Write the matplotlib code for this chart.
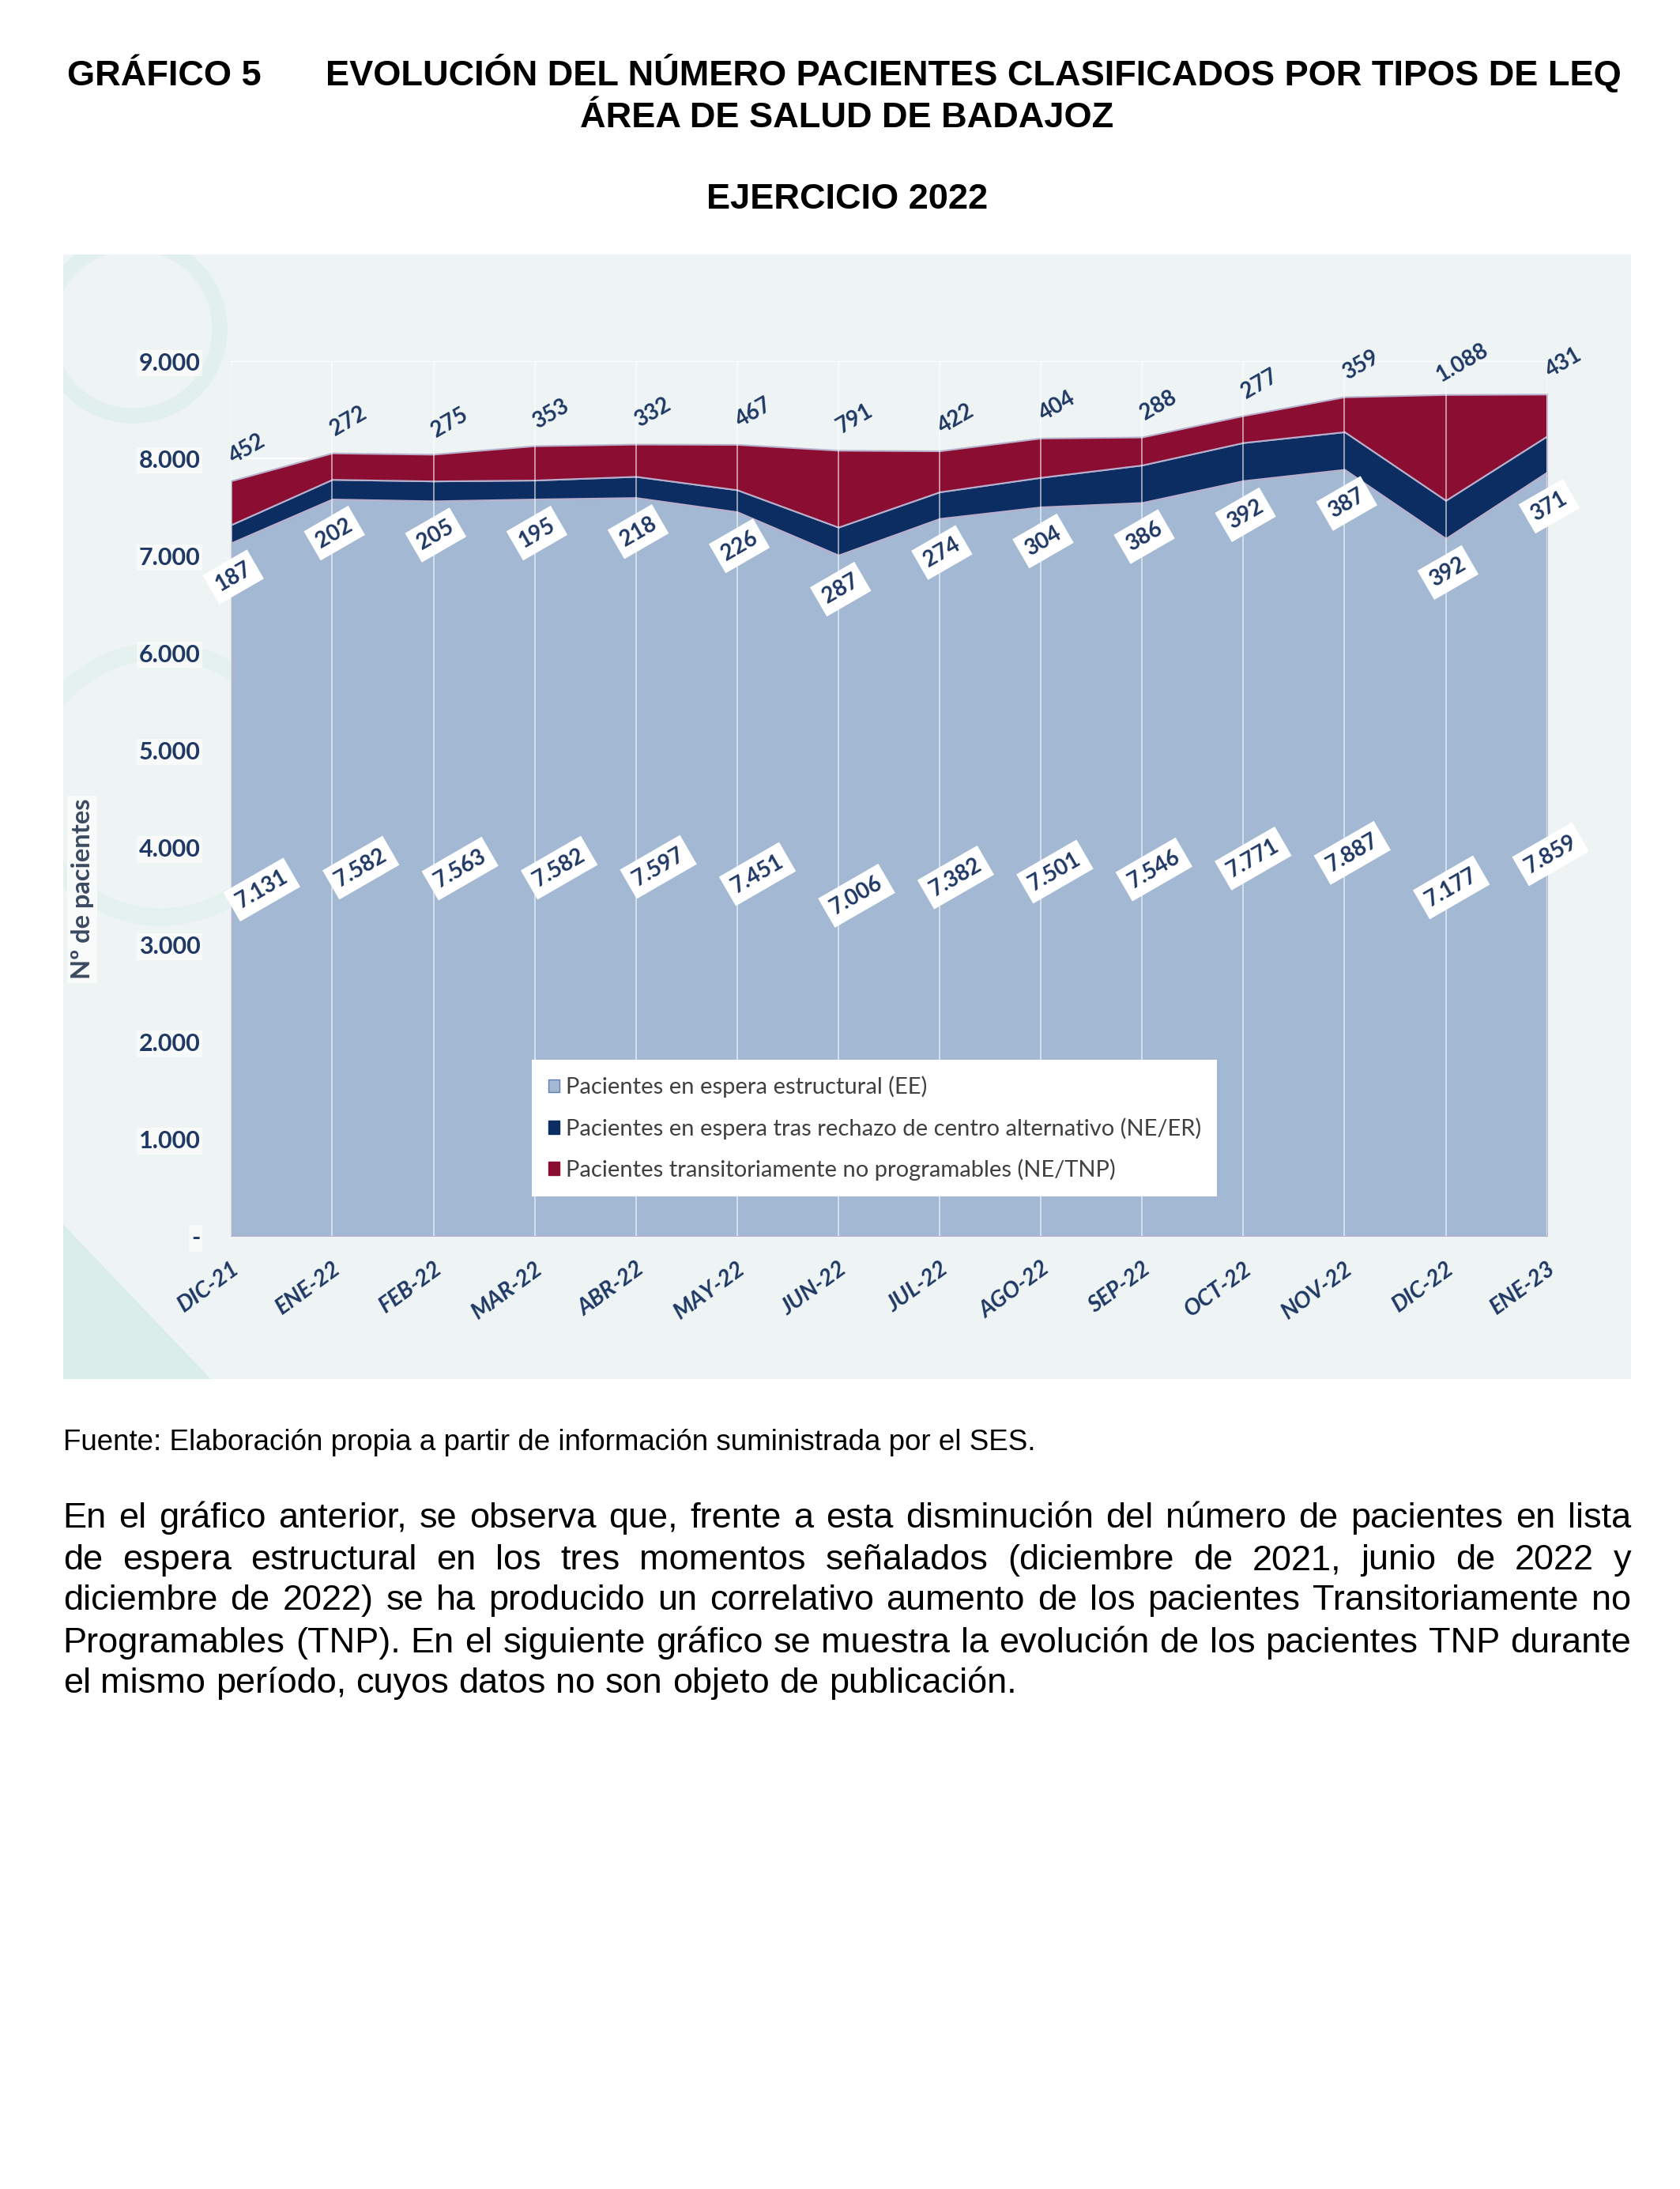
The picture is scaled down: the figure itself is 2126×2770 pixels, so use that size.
import numpy as np
import matplotlib.pyplot as plt
from matplotlib.patches import Patch, Circle, Polygon

# datos
meses = ['DIC-21', 'ENE-22', 'FEB-22', 'MAR-22', 'ABR-22', 'MAY-22', 'JUN-22',
         'JUL-22', 'AGO-22', 'SEP-22', 'OCT-22', 'NOV-22', 'DIC-22', 'ENE-23']
ee = [7131, 7582, 7563, 7582, 7597, 7451, 7006, 7382, 7501, 7546, 7771, 7887, 7177, 7859]
ne_er = [187, 202, 205, 195, 218, 226, 287, 274, 304, 386, 392, 387, 392, 371]
ne_tnp = [452, 272, 275, 353, 332, 467, 791, 422, 404, 288, 277, 359, 1088, 431]
yticks = [0, 1000, 2000, 3000, 4000, 5000, 6000, 7000, 8000, 9000]
series = ['Pacientes en espera estructural (EE)',
          'Pacientes en espera tras rechazo de centro alternativo (NE/ER)',
          'Pacientes transitoriamente no programables (NE/TNP)']

parrafo = [
    "En el gráfico anterior, se observa que, frente a esta disminución del número de pacientes en lista",
    "de espera estructural en los tres momentos señalados (diciembre de 2021, junio de 2022 y",
    "diciembre de 2022) se ha producido un correlativo aumento de los pacientes Transitoriamente no",
    "Programables (TNP). En el siguiente gráfico se muestra la evolución de los pacientes TNP durante",
    "el mismo período, cuyos datos no son objeto de publicación.",
]

c_ee, c_er, c_tnp = '#a3b8d3', '#0c2d61', '#8b0d32'
navy = '#1f3864'

W, H = 2126, 2770
S = W / 1200  # layout measured on a 1200 px wide view


def fx(x):
    return x / 1200


def fy(y):
    return 1 - y * S / H


def fmt(v):
    return f'{v:,}'.replace(',', '.')


fig = plt.figure(figsize=(W / 100, H / 100), dpi=100)
fig.patch.set_facecolor('white')

# titulos
tkw = dict(family='Liberation Sans', weight='bold', fontsize=32.5, color='black')
fig.text(fx(48), fy(61), 'GRÁFICO 5', ha='left', va='baseline', **tkw)
fig.text(fx(1158), fy(61), 'EVOLUCIÓN DEL NÚMERO PACIENTES CLASIFICADOS POR TIPOS DE LEQ',
         ha='right', va='baseline', **tkw)
fig.text(fx(605), fy(91), 'ÁREA DE SALUD DE BADAJOZ', ha='center', va='baseline', **tkw)
fig.text(fx(605), fy(149), 'EJERCICIO 2022', ha='center', va='baseline', **tkw)

# fondo de la imagen del grafico
bg = fig.add_axes([fx(45), fy(985), fx(1165) - fx(45), fy(182) - fy(985)])
bg.set_facecolor('#eef4f3')
bg.set_xlim(45, 1165)
bg.set_ylim(985, 182)
bg.set_xticks([])
bg.set_yticks([])
for s in bg.spines.values():
    s.set_visible(False)
bg.add_patch(Circle((95, 235), 62, fill=False, lw=14, ec='#e0efec', alpha=0.8))
bg.add_patch(Circle((115, 560), 95, fill=False, lw=16, ec='#e0f0ec', alpha=0.7))
bg.add_patch(Polygon([(45, 985), (45, 875), (150, 985)], color='#d3ebe6', alpha=0.7))

ax = fig.add_axes([fx(165), fy(883), fx(1105) - fx(165), fy(258) - fy(883)])
ax.patch.set_alpha(0)
x = np.arange(len(meses))
ax.stackplot(x, ee, ne_er, ne_tnp, colors=[c_ee, c_er, c_tnp],
             edgecolor='#b8b0cc', linewidth=1.5, zorder=2)
for i in x:
    ax.axvline(i, color='white', lw=1.3, alpha=0.6, zorder=3)
ax.set_xlim(0, 13)
ax.set_ylim(0, 9000)
ax.set_yticks(yticks)
ax.set_yticklabels(['-' if v == 0 else fmt(v) for v in yticks],
                   family='Lato', weight='bold', fontsize=22, color=navy)
ax.yaxis.grid(True, color='white', lw=1.5)
ax.set_axisbelow(True)
ax.tick_params(axis='y', length=0, pad=28)
ax.set_xticks(x)
ax.set_xticklabels(meses, rotation=36, ha='right', va='top', rotation_mode='anchor',
                   family='Lato', weight='bold', style='italic', fontsize=20.5, color=navy)
ax.tick_params(axis='x', length=0, pad=20)
for s in ax.spines.values():
    s.set_visible(False)
for lab in ax.get_yticklabels():
    lab.set_bbox(dict(fc='white', ec='none', alpha=0.6, pad=2))

ax.set_ylabel('Nº de pacientes', family='Lato', weight='bold', fontsize=23.5, color='#3b4a60',
              bbox=dict(fc='white', ec='none', alpha=0.7, pad=3))
ax.yaxis.set_label_coords((67 - 165) / 940, (883 - 635) / 625)

box = dict(boxstyle='square,pad=0.3', fc='white', ec='none')
lkw = dict(family='Lato', weight='bold', fontsize=20, color=navy, rotation=30,
           ha='center', va='center', zorder=5)
unit = 940 / 13
for i in x:
    ax.text(i + (22 - 1.5 * i) / unit, ee[i] / 2, fmt(ee[i]), bbox=box, **lkw)
    ax.annotate(fmt(ne_er[i]), (i, ee[i]), xytext=(2, -31), textcoords='offset points',
                bbox=box, annotation_clip=False, **lkw)
    ax.annotate(fmt(ne_tnp[i]), (i, ee[i] + ne_er[i] + ne_tnp[i]), xytext=(15, 29),
                textcoords='offset points', annotation_clip=False, **lkw)

handles = [Patch(fc=c_ee, ec='#5a7fb0', lw=1), Patch(fc=c_er, ec=c_er), Patch(fc=c_tnp, ec=c_tnp)]
leg = fig.legend(handles, series, loc='upper left', bbox_to_anchor=(fx(380), fy(757)),
                 frameon=True, fancybox=False, facecolor='white', edgecolor='none', framealpha=1,
                 prop=dict(family='Lato', size=21), labelcolor='#404040',
                 handlelength=0.5, handleheight=0.5, handletextpad=0.25,
                 labelspacing=0.85, borderpad=0.7, borderaxespad=0)
leg.set_zorder(10)

fig.text(fx(45), fy(1036), 'Fuente: Elaboración propia a partir de información suministrada por el SES.',
         family='Liberation Sans', fontsize=26.5, ha='left', va='baseline')

# parrafo justificado
renderer = fig.canvas.get_renderer()
pkw = dict(family='Liberation Sans', fontsize=32.5, ha='left', va='baseline')
base = [1091, 1121, 1150, 1180, 1209]
sp = fig.text(0, 0, 'a a', **pkw)
sa = fig.text(0, 0, 'a', **pkw)
space = sp.get_window_extent(renderer).width - 2 * sa.get_window_extent(renderer).width
sp.remove()
sa.remove()
for k, line in enumerate(parrafo):
    words = line.split()
    ts = [fig.text(0, fy(base[k]), w, **pkw) for w in words]
    widths = [t.get_window_extent(renderer).width for t in ts]
    x0 = fx(45) * W
    if k < len(parrafo) - 1:
        gap = (fx(1165) * W - x0 - sum(widths)) / (len(words) - 1)
    else:
        gap = space
    pos = x0
    for t, w in zip(ts, widths):
        t.set_x(pos / W)
        pos += w + gap

fig.savefig('out.png', dpi=100)
